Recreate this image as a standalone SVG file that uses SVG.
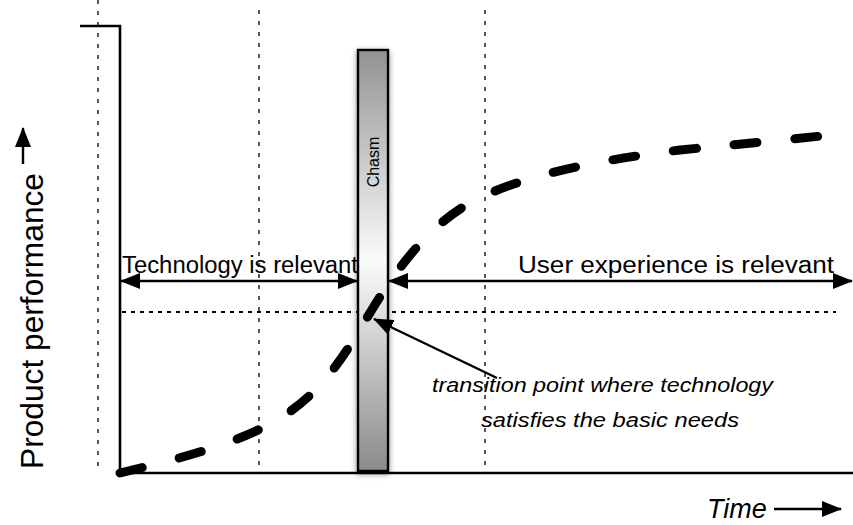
<svg xmlns="http://www.w3.org/2000/svg" width="853" height="525" viewBox="0 0 853 525">
  <style>
    .grid { fill: none; stroke: #000; stroke-width: 1.3; stroke-dasharray: 4 7; }
    .level { fill: none; stroke: #000; stroke-width: 2; stroke-dasharray: 4 5; }
    .axis { fill: none; stroke: #000; stroke-width: 2.6; }
    .arrow { fill: none; stroke: #000; stroke-width: 2.4; }
    .curve { fill: none; stroke: #000; stroke-width: 9; stroke-linecap: round; stroke-dasharray: 23 38; }
    .label { font-family: "Liberation Sans", Arial, sans-serif; fill: #000; }
    .note { font-family: "Liberation Sans", Arial, sans-serif; font-style: italic; fill: #000; font-size: 20px; }
  </style>
  <defs>
    <marker id="head" viewBox="0 0 20 16" refX="19" refY="8" markerWidth="20" markerHeight="16" markerUnits="userSpaceOnUse" orient="auto-start-reverse">
      <path d="M0,0 L20,8 L0,16 z" fill="#000"/>
    </marker>
    <linearGradient id="chasmFill" x1="0" y1="0" x2="0" y2="1">
      <stop offset="0" stop-color="#929292"/>
      <stop offset="0.5" stop-color="#fbfbfb"/>
      <stop offset="1" stop-color="#8a8a8a"/>
    </linearGradient>
    <filter id="shadow" x="-50%" y="-5%" width="200%" height="110%">
      <feGaussianBlur in="SourceAlpha" stdDeviation="3"/>
      <feOffset dx="0" dy="2" result="blur"/>
      <feComponentTransfer><feFuncA type="linear" slope="0.45"/></feComponentTransfer>
      <feMerge><feMergeNode/><feMergeNode in="SourceGraphic"/></feMerge>
    </filter>
  </defs>

  <!-- time markers -->
  <g id="grid">
    <line class="grid" x1="98" y1="0" x2="98" y2="473"/>
    <line class="grid" x1="259" y1="10" x2="259" y2="473"/>
    <line class="grid" x1="485" y1="10" x2="485" y2="473"/>
    <line class="level" x1="122" y1="312" x2="836" y2="312"/>
  </g>

  <!-- axes -->
  <g id="axes">
    <polyline class="axis" points="80,26 120,26 120,473 853,473"/>
  </g>

  <!-- chasm bar -->
  <g id="chasm">
    <rect x="358" y="50" width="30" height="421" fill="url(#chasmFill)" stroke="#000" stroke-width="2.4" filter="url(#shadow)"/>
    <text class="label" font-size="16" transform="translate(379,162) rotate(-90)" text-anchor="middle">Chasm</text>
  </g>

  <!-- performance curve -->
  <g id="curve">
    <path class="curve" d="M120,473 C165,462 240,445 285,415 C330,385 350,345 376,303 C400,265 430,225 470,203 C520,175 600,160 680,150 C760,142 810,138 853,132"/>
  </g>

  <!-- range connectors -->
  <g id="connectors">
    <line class="arrow" x1="121" y1="281" x2="357" y2="281" marker-start="url(#head)" marker-end="url(#head)"/>
    <line class="arrow" x1="389" y1="281" x2="852" y2="281" marker-start="url(#head)" marker-end="url(#head)"/>
    <line class="arrow" x1="497" y1="378" x2="374" y2="319" marker-end="url(#head)"/>
    <line class="arrow" x1="23" y1="164" x2="23" y2="128" marker-end="url(#head)"/>
    <line class="arrow" x1="774" y1="509" x2="841" y2="509" marker-end="url(#head)"/>
  </g>

  <!-- labels -->
  <g id="range-labels">
    <text class="label" font-size="23" x="122" y="273" textLength="236" lengthAdjust="spacingAndGlyphs">Technology is relevant</text>
    <text class="label" font-size="23" x="518" y="273" textLength="316" lengthAdjust="spacingAndGlyphs">User experience is relevant</text>
  </g>
  <g id="transition-note">
    <text class="note" x="432" y="392" textLength="341" lengthAdjust="spacingAndGlyphs">transition point where technology</text>
    <text class="note" x="481" y="427" textLength="258" lengthAdjust="spacingAndGlyphs">satisfies the basic needs</text>
  </g>
  <g id="axis-labels">
    <text class="label" font-size="31" transform="translate(43,469) rotate(-90)" textLength="296" lengthAdjust="spacingAndGlyphs">Product performance</text>
    <text class="label" font-size="27" font-style="italic" x="707" y="518">Time</text>
  </g>
</svg>
